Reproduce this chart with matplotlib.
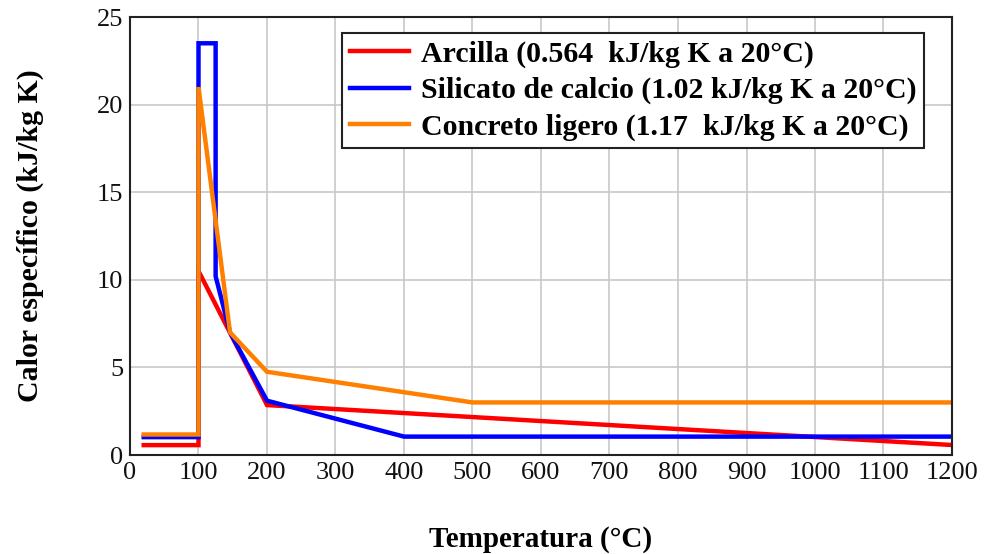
import matplotlib
matplotlib.use("Agg")
import matplotlib.pyplot as plt

# Data (temperature in °C, specific heat in kJ/kg K)
arcilla_T = [20, 100, 100, 200, 1200]
arcilla_c = [0.564, 0.564, 10.5, 2.85, 0.57]

silicato_T = [20, 100, 100, 125, 125, 146, 200, 400, 1200]
silicato_c = [1.02, 1.02, 23.5, 23.5, 10.2, 7.0, 3.1, 1.05, 1.05]

concreto_T = [20, 100, 100, 146, 200, 500, 1200]
concreto_c = [1.17, 1.17, 21.0, 7.0, 4.75, 3.0, 3.0]

labels = ["Arcilla (0.564  kJ/kg K a 20°C)",
          "Silicato de calcio (1.02 kJ/kg K a 20°C)",
          "Concreto ligero (1.17  kJ/kg K a 20°C)"]
colors = ["#ff0000", "#0000ff", "#ff8000"]

xticks = list(range(0, 1201, 100))
yticks = [0, 5, 10, 15, 20, 25]

plt.rcParams['font.family'] = ['Liberation Serif', 'DejaVu Serif']

fig = plt.figure(figsize=(9.87, 5.54), dpi=100)
ax = fig.add_axes([130/987, 1-455/554, (952-130)/987, (455-17)/554])

for T, c, lab, col in zip([arcilla_T, silicato_T, concreto_T],
                          [arcilla_c, silicato_c, concreto_c], labels, colors):
    ax.plot(T, c, color=col, lw=3.2, label=lab, solid_joinstyle='miter')

ax.set_xlim(0, 1200)
ax.set_ylim(0, 25)
ax.set_xticks(xticks)
ax.set_yticks(yticks)
ax.grid(True, color='#c8c8c8', lw=1.2)
ax.set_axisbelow(True)
for s in ax.spines.values():
    s.set_color('#222222')
    s.set_linewidth(1.5)
ax.tick_params(axis='both', length=0, labelsize=19, pad=5, colors='#111111')

ax.set_xlabel("Temperatura (°C)", fontsize=21, fontweight='bold', labelpad=30)
ax.set_ylabel("Calor específico (kJ/kg K)", fontsize=21.5, fontweight='bold', labelpad=38)

leg = ax.legend(loc='upper right', bbox_to_anchor=(0.9665, 0.963),
                prop={'weight': 'bold', 'size': 21.5}, fancybox=False, framealpha=1,
                edgecolor='#222222', handlelength=2.0, handletextpad=0.4,
                borderpad=0.25, labelspacing=0.3, borderaxespad=0)
leg.get_frame().set_linewidth(1.5)

fig.savefig("out.png", dpi=100)
